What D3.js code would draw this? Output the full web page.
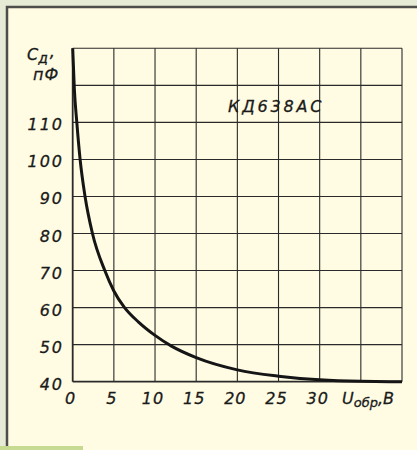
<!DOCTYPE html>
<html>
<head>
<meta charset="utf-8">
<script src="https://cdn.jsdelivr.net/npm/d3@7"></script>
<style>
  body { margin: 0; background: #e6ebd6; }
  svg { display: block; }
</style>
</head>
<body>
<script>
// Capacitance vs reverse voltage, KD638AS
var voltage = [0, 0.2, 0.5, 0.9, 1.5, 2.4, 3.9, 5, 6.3, 8, 10, 12, 15, 20, 25, 30, 35, 40];
var capacitance = [130, 119, 110, 100, 90, 80, 70, 64.5, 60, 56.1, 52.5, 49.6, 46.5, 43.2, 41.5, 40.5, 40.1, 40];
var xTicks = [0, 5, 10, 15, 20, 25, 30, 35, 40];
var yTicks = [40, 50, 60, 70, 80, 90, 100, 110, 120, 130];
var xLabels = [0, 5, 10, 15, 20, 25, 30];
var yLabels = [40, 50, 60, 70, 80, 90, 100, 110];

var W = 417, H = 450;
var svg = d3.select("body").append("svg")
  .attr("width", W)
  .attr("height", H);

// background + panel
svg.append("rect").attr("width", W).attr("height", H).attr("fill", "#e6ebd6");
svg.append("rect").attr("x", 6).attr("y", 6).attr("width", W - 6).attr("height", H - 6)
  .attr("fill", "#fffce3");
svg.append("path").attr("d", "M7,450V7H417")
  .attr("fill", "none").attr("stroke", "#4d4d4b").attr("stroke-width", 2.5);
svg.append("rect").attr("x", 0).attr("y", 446).attr("width", 83).attr("height", 4)
  .attr("fill", "#c7da92");

var x = d3.scaleLinear().domain([0, 40]).range([72.7, 402]);
var y = d3.scaleLinear().domain([40, 130]).range([381.7, 48.3]);

var font = "'DejaVu Sans', sans-serif";

// grid
svg.append("g").selectAll("line").data(xTicks).enter().append("line")
  .attr("x1", function(d) { return x(d); })
  .attr("x2", function(d) { return x(d); })
  .attr("y1", y(130)).attr("y2", y(40))
  .attr("stroke", "#2a2a2a")
  .attr("stroke-width", function(d) { return d === 0 ? 1.8 : 1.1; });

svg.append("g").selectAll("line").data(yTicks).enter().append("line")
  .attr("x1", x(0)).attr("x2", x(40))
  .attr("y1", function(d) { return y(d); })
  .attr("y2", function(d) { return y(d); })
  .attr("stroke", "#2a2a2a")
  .attr("stroke-width", function(d) { return d === 40 ? 1.8 : 1.1; });

// curve
var line = d3.line()
  .x(function(d, i) { return x(voltage[i]); })
  .y(function(d) { return y(d); })
  .curve(d3.curveMonotoneX);

svg.append("path")
  .datum(capacitance)
  .attr("d", line)
  .attr("fill", "none")
  .attr("stroke", "#151515")
  .attr("stroke-width", 3)
  .attr("stroke-linejoin", "round");

function label(sel) {
  return sel.attr("font-family", font).attr("font-style", "italic")
    .attr("font-size", 16).attr("fill", "#1a1a1a")
    .attr("stroke", "#1a1a1a").attr("stroke-width", 0.3);
}

// y labels
label(svg.append("g").selectAll("text").data(yLabels).enter().append("text"))
  .attr("x", 64)
  .attr("y", function(d) { return y(d) + 8; })
  .attr("text-anchor", "end")
  .attr("letter-spacing", 2)
  .text(function(d) { return d; });

// x labels
label(svg.append("g").selectAll("text").data(xLabels).enter().append("text"))
  .attr("x", function(d) { return x(d) - 2; })
  .attr("y", 404)
  .attr("text-anchor", "middle")
  .attr("letter-spacing", 1)
  .text(function(d) { return d; });

// axis names
var xName = label(svg.append("text"))
  .attr("x", 342).attr("y", 404);
xName.append("tspan").text("U");
xName.append("tspan").attr("font-size", 13).attr("dy", 3).text("обр");
xName.append("tspan").attr("dy", -3).text(",В");

var yName = label(svg.append("text"))
  .attr("x", 27).attr("y", 60);
yName.append("tspan").text("С");
yName.append("tspan").attr("font-size", 14).attr("dy", 3).text("д");
yName.append("tspan").attr("dy", -6).attr("dx", 2).text(",");

label(svg.append("text"))
  .attr("x", 33).attr("y", 80)
  .attr("letter-spacing", 1)
  .text("пФ");

// device name
label(svg.append("text"))
  .attr("x", 228).attr("y", 112)
  .attr("letter-spacing", 2.8)
  .text("КД638АС");
</script>
</body>
</html>
